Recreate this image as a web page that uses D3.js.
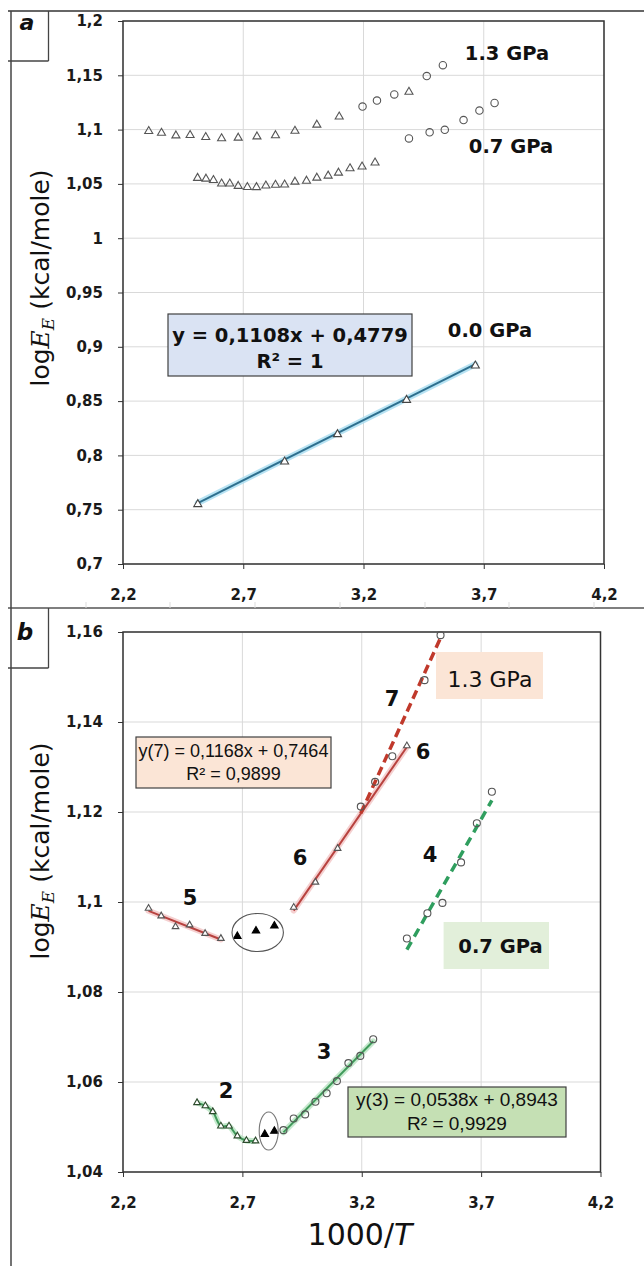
<!DOCTYPE html>
<html lang="en">
<head>
  <meta charset="UTF-8">
  <title>log E vs 1000/T</title>
  <script src="https://d3js.org/d3.v7.min.js"></script>
  <style>
    body { margin: 0; background: #fff; }
    svg { display: block; }
    .tick text { font-family: "DejaVu Sans", sans-serif; font-weight: bold; font-size: 15px; fill: #1a1a1a; }
    .tick line { stroke: #333; }
    .lbl { font-family: "DejaVu Sans", sans-serif; fill: #111; }
  </style>
</head>
<body>
  <script>
    // ---- data ----
    const xTicks = [2.2, 2.7, 3.2, 3.7, 4.2];
    const yTicksA = [0.7, 0.75, 0.8, 0.85, 0.9, 0.95, 1, 1.05, 1.1, 1.15, 1.2];
    const yTicksB = [1.04, 1.06, 1.08, 1.1, 1.12, 1.14, 1.16];

    // 1.3 GPa, triangles
    const p13TriX = [2.307, 2.36, 2.42, 2.479, 2.544, 2.61, 2.679, 2.757, 2.834, 2.915, 3.006, 3.099, 3.389];
    const p13TriY = [1.0986, 1.0969, 1.0945, 1.0949, 1.0930, 1.0919, 1.0924, 1.0936, 1.0947, 1.0988, 1.1044, 1.1119, 1.1347];
    // 1.3 GPa, circles
    const p13CirX = [3.196, 3.256, 3.328, 3.463, 3.53];
    const p13CirY = [1.1212, 1.1267, 1.1324, 1.1493, 1.1593];
    // 0.7 GPa, triangles (in panel b: open 2, filled, circles 3)
    const p07TriX = [2.51, 2.545, 2.576, 2.61, 2.644, 2.679, 2.717, 2.755, 2.794, 2.834, 2.872, 2.915, 2.963, 3.006, 3.053, 3.096, 3.144, 3.194, 3.248];
    const p07TriY = [1.0554, 1.0547, 1.0534, 1.0502, 1.0502, 1.048, 1.047, 1.0469, 1.0484, 1.0491, 1.0493, 1.0519, 1.0528, 1.0556, 1.0575, 1.0602, 1.0642, 1.0658, 1.0695];
    // 0.7 GPa, circles
    const p07CirX = [3.389, 3.475, 3.538, 3.616, 3.682, 3.745];
    const p07CirY = [1.0919, 1.0975, 1.0998, 1.1088, 1.1175, 1.1245];
    // 0.0 GPa
    const p00X = [2.511, 2.872, 3.092, 3.379, 3.665];
    const p00Y = [0.755, 0.7942, 0.8194, 0.851, 0.8826];

    // index ranges used in panel b
    const seg5 = [0, 6], filled13 = [6, 9], seg6 = [9, 13];
    const seg2 = [0, 8], filled07 = [8, 10], seg3 = [10, 19];

    // trend line coefficients printed on the chart
    const eq00 = [0.1108, 0.4779];
    const eq7 = [0.1168, 0.7464];
    const eq3 = [0.0538, 0.8943];

    const W = 644, H = 1266;
    const svg = d3.select("body").append("svg").attr("width", W).attr("height", H);

    const comma = d => String(+d.toFixed(2)).replace(".", ",");
    const pts = (xs, ys, r) => xs.slice(r ? r[0] : 0, r ? r[1] : xs.length).map((x, i) => [x, ys[(r ? r[0] : 0) + i]]);

    function linFit(p) {
      const n = p.length, mx = d3.mean(p, d => d[0]), my = d3.mean(p, d => d[1]);
      const b = d3.sum(p, d => (d[0] - mx) * (d[1] - my)) / d3.sum(p, d => (d[0] - mx) ** 2);
      return [b, my - b * mx];
    }

    // ---- frame ----
    const frame = svg.append("g");
    frame.append("line").attr("x1", 8).attr("x2", W).attr("y1", 11).attr("y2", 11).attr("stroke", "#666").attr("stroke-width", 2);
    frame.append("line").attr("x1", 8).attr("x2", W).attr("y1", 608).attr("y2", 608).attr("stroke", "#555").attr("stroke-width", 1.5);
    frame.append("line").attr("x1", 11).attr("x2", 11).attr("y1", 11).attr("y2", H).attr("stroke", "#444").attr("stroke-width", 1.5);
    [[11, 61], [608, 668]].forEach(([t, b]) => {
      frame.append("line").attr("x1", 48.5).attr("x2", 48.5).attr("y1", t).attr("y2", b).attr("stroke", "#444").attr("stroke-width", 1.3);
      frame.append("line").attr("x1", 8).attr("x2", 48.5).attr("y1", b).attr("y2", b).attr("stroke", "#444").attr("stroke-width", 1.3);
    });
    [86, 170, 255, 340, 425, 509, 594].forEach(x => {
      frame.append("line").attr("x1", x).attr("x2", x).attr("y1", 602).attr("y2", 608).attr("stroke", "#ddd");
    });
    frame.append("text").attr("class", "lbl").attr("x", 27).attr("y", 30).attr("text-anchor", "middle")
      .style("font-size", "22px").style("font-weight", "bold").style("font-style", "italic").text("a");
    frame.append("text").attr("class", "lbl").attr("x", 25).attr("y", 640).attr("text-anchor", "middle")
      .style("font-size", "23px").style("font-weight", "bold").style("font-style", "italic").text("b");

    // ---- panel builder ----
    function panel(o) {
      const g = svg.append("g");
      const x = d3.scaleLinear().domain([2.2, 4.2]).range([o.left, o.right]);
      const y = d3.scaleLinear().domain(o.yDomain).range([o.bottom, o.top]);

      g.append("g").selectAll("line").data(o.yTicks).join("line")
        .attr("x1", o.left).attr("x2", o.right).attr("y1", d => y(d)).attr("y2", d => y(d))
        .attr("stroke", "#d9d9d9");
      g.append("g").selectAll("line").data(xTicks).join("line")
        .attr("y1", o.top).attr("y2", o.bottom).attr("x1", d => x(d)).attr("x2", d => x(d))
        .attr("stroke", "#d9d9d9");

      g.append("g").attr("transform", `translate(${o.left},0)`)
        .call(d3.axisLeft(y).tickValues(o.yTicks).tickSize(5).tickPadding(15).tickFormat(comma))
        .call(a => a.select(".domain").remove());
      g.append("g").attr("transform", `translate(0,${o.bottom})`)
        .call(d3.axisBottom(x).tickValues(xTicks).tickSize(5).tickPadding(20).tickFormat(comma))
        .call(a => a.select(".domain").remove());

      g.append("rect").attr("x", o.left).attr("y", o.top)
        .attr("width", o.right - o.left).attr("height", o.bottom - o.top)
        .attr("fill", "none").attr("stroke", "#333").attr("stroke-width", 1.5);

      // y title
      const t = g.append("text").attr("class", "lbl")
        .attr("transform", `translate(49,${o.titleY}) rotate(-90)`)
        .attr("text-anchor", "middle").style("font-size", "25px");
      t.append("tspan").text("log");
      t.append("tspan").style("font-family", "'DejaVu Serif', serif").style("font-style", "italic").text("E");
      t.append("tspan").style("font-family", "'DejaVu Serif', serif").style("font-style", "italic")
        .style("font-size", "17px").attr("dy", 5).text("E");
      t.append("tspan").attr("dy", -5).text(" (kcal/mole)");

      return { g, x, y };
    }

    function trend(p, coef, xs, color, width, dash, glow) {
      const line = d3.line().x(d => p.x(d)).y(d => p.y(coef[0] * d + coef[1]));
      const dom = d3.extent(xs);
      if (glow) p.g.append("path").attr("d", line(dom)).attr("stroke", glow).attr("stroke-width", width + 4)
        .attr("fill", "none").attr("stroke-linecap", "round").attr("opacity", 0.8);
      p.g.append("path").attr("d", line(dom)).attr("stroke", color).attr("stroke-width", width)
        .attr("fill", "none").attr("stroke-dasharray", dash || null);
    }

    function tris(p, data, area, stroke, fill) {
      p.g.append("g").selectAll("path").data(data).join("path")
        .attr("d", d3.symbol(d3.symbolTriangle, area))
        .attr("transform", d => `translate(${p.x(d[0])},${p.y(d[1])})`)
        .attr("fill", fill).attr("stroke", stroke).attr("stroke-width", 1.1);
    }
    function circs(p, data, r, stroke) {
      p.g.append("g").selectAll("circle").data(data).join("circle")
        .attr("cx", d => p.x(d[0])).attr("cy", d => p.y(d[1])).attr("r", r)
        .attr("fill", "none").attr("stroke", stroke).attr("stroke-width", 1.1);
    }
    function label(g, x, y, txt, size, weight, family) {
      g.append("text").attr("class", "lbl").attr("x", x).attr("y", y).attr("text-anchor", "middle")
        .style("font-size", size + "px").style("font-weight", weight || "normal")
        .style("font-family", family || null).text(txt);
    }
    function box(g, x0, y0, x1, y1, fill, stroke) {
      g.append("rect").attr("x", x0).attr("y", y0).attr("width", x1 - x0).attr("height", y1 - y0)
        .attr("fill", fill).attr("stroke", stroke || "none").attr("stroke-width", 1.2);
    }

    // ---- panel a ----
    const A = panel({ left: 123, right: 604, top: 21, bottom: 564, yDomain: [0.7, 1.2], yTicks: yTicksA, titleY: 278 });
    trend(A, eq00, p00X, "#2d6f8e", 2, null, "#a6dcf0");
    tris(A, pts(p00X, p00Y), 28, "#444", "#fff");
    tris(A, pts(p13TriX, p13TriY), 28, "#555", "none");
    tris(A, pts(p07TriX, p07TriY), 28, "#555", "none");
    circs(A, pts(p13CirX, p13CirY), 3.7, "#555");
    circs(A, pts(p07CirX, p07CirY), 3.7, "#555");

    label(A.g, 507, 60, "1.3 GPa", 19.5, "bold");
    label(A.g, 511, 153, "0.7 GPa", 19.5, "bold");
    label(A.g, 490, 337, "0.0 GPa", 19.5, "bold");
    box(A.g, 168, 314, 412, 376, "#dae3f3", "#404040");
    label(A.g, 290, 342, "y = 0,1108x + 0,4779", 19.5, "bold");
    label(A.g, 290, 368, "R² = 1", 19.5, "bold");

    // ---- panel b ----
    const B = panel({ left: 123, right: 600.5, top: 632, bottom: 1172, yDomain: [1.04, 1.16], yTicks: yTicksB, titleY: 851 });

    box(B.g, 436, 652, 543, 699, "#fbe5d6");
    label(B.g, 490, 687, "1.3 GPa", 22);
    box(B.g, 443.6, 922, 549, 969, "#e2efda");
    label(B.g, 500.5, 953, "0.7 GPa", 19.5, "bold");

    const s5 = pts(p13TriX, p13TriY, seg5), s6 = pts(p13TriX, p13TriY, seg6);
    const s2 = pts(p07TriX, p07TriY, seg2), s3 = pts(p07TriX, p07TriY, seg3);
    const s7 = pts(p13CirX, p13CirY), s4 = pts(p07CirX, p07CirY);

    trend(B, linFit(s5), s5.map(d => d[0]), "#b8423f", 2, null, "#f3c4c4");
    trend(B, linFit(s6), s6.map(d => d[0]), "#b8423f", 2, null, "#f3c4c4");
    trend(B, eq7, p13CirX, "#c0392b", 3.5, "9,5");
    trend(B, eq3, s3.map(d => d[0]), "#3f9a5a", 2, null, "#b6e3c0");
    trend(B, linFit(s4), p07CirX, "#2f9e5e", 3.5, "9,6");

    // line 2 follows the points
    const curve = d3.line().x(d => B.x(d[0])).y(d => B.y(d[1])).curve(d3.curveCatmullRom.alpha(0.5));
    B.g.append("path").attr("d", curve(s2)).attr("stroke", "#b6e3c0").attr("stroke-width", 6).attr("fill", "none").attr("opacity", 0.8);
    B.g.append("path").attr("d", curve(s2)).attr("stroke", "#3f9a5a").attr("stroke-width", 2).attr("fill", "none");

    tris(B, s5, 19, "#555", "#fff");
    tris(B, s6, 19, "#555", "#fff");
    tris(B, pts(p13TriX, p13TriY, filled13), 24, "#000", "#000");
    tris(B, s2, 19, "#2c4a2c", "#fff");
    tris(B, pts(p07TriX, p07TriY, filled07), 24, "#000", "#000");
    circs(B, s3, 3.5, "#555");
    circs(B, s7, 3.5, "#555");
    circs(B, s4, 3.5, "#555");

    B.g.append("ellipse").attr("cx", 257.7).attr("cy", 932.5).attr("rx", 25.7).attr("ry", 19)
      .attr("fill", "none").attr("stroke", "#555").attr("stroke-width", 1.1);
    B.g.append("ellipse").attr("cx", 268.7).attr("cy", 1131).attr("rx", 9.5).attr("ry", 19)
      .attr("fill", "none").attr("stroke", "#777").attr("stroke-width", 1.1);

    label(B.g, 392, 706, "7", 21, "bold");
    label(B.g, 423, 759, "6", 21, "bold");
    label(B.g, 300, 865, "6", 21, "bold");
    label(B.g, 430, 862, "4", 21, "bold");
    label(B.g, 190, 905, "5", 21, "bold");
    label(B.g, 226, 1098, "2", 21, "bold");
    label(B.g, 324, 1059, "3", 21, "bold");

    box(B.g, 136, 737, 331, 788, "#fbe5d6", "#404040");
    label(B.g, 233.5, 757, "y(7) = 0,1168x + 0,7464", 18, "normal", "'Liberation Sans', Arial, sans-serif");
    label(B.g, 233.5, 780, "R² = 0,9899", 18, "normal", "'Liberation Sans', Arial, sans-serif");
    box(B.g, 348, 1087, 566, 1137, "#c5e0b4", "#404040");
    label(B.g, 457, 1106, "y(3) = 0,0538x + 0,8943", 19, "normal", "'Liberation Sans', Arial, sans-serif");
    label(B.g, 457, 1130, "R² = 0,9929", 19, "normal", "'Liberation Sans', Arial, sans-serif");

    const xt = B.g.append("text").attr("class", "lbl").attr("x", 360).attr("y", 1245)
      .attr("text-anchor", "middle").style("font-size", "30px");
    xt.append("tspan").text("1000/");
    xt.append("tspan").style("font-style", "italic").text("T");
  </script>
</body>
</html>
